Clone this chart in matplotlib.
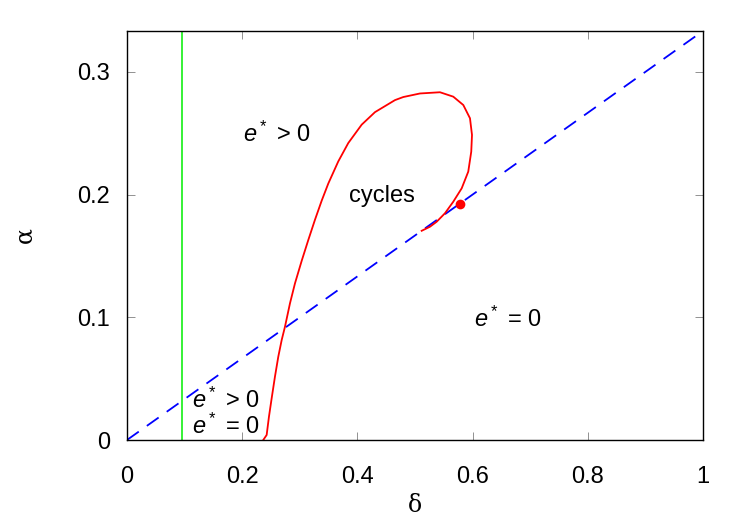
import matplotlib
matplotlib.use('Agg')
import matplotlib.pyplot as plt
import numpy as np

# values
delta_boundary = 0.096
line_delta = [0.0, 1.0]
line_alpha = [0.0, 1.0 / 3.0]

cycle_delta = [0.2366, 0.2425, 0.2465, 0.2512, 0.2569, 0.2627, 0.2686, 0.2743,
               0.2830, 0.2917, 0.3033, 0.3148, 0.3264, 0.3380, 0.3495, 0.3668,
               0.3842, 0.4075, 0.4306, 0.4653, 0.4797, 0.5087, 0.5434, 0.5665,
               0.5839, 0.5955, 0.5990, 0.5977, 0.5925, 0.5811, 0.5665, 0.5521,
               0.5377, 0.5260, 0.5116]
cycle_alpha = [0.0, 0.0041, 0.0190, 0.0340, 0.0516, 0.0679, 0.0815, 0.0923,
               0.1114, 0.1277, 0.1460, 0.1630, 0.1795, 0.1950, 0.2090, 0.2270,
               0.2420, 0.2570, 0.2672, 0.2770, 0.2795, 0.2824, 0.2834, 0.2798,
               0.2730, 0.2622, 0.2486, 0.2350, 0.2187, 0.2051, 0.1942, 0.1848,
               0.1779, 0.1738, 0.1705]

point_delta = 0.578
point_alpha = 0.1927

xticks = [0, 0.2, 0.4, 0.6, 0.8, 1]
xticklabels = ['0', '0.2', '0.4', '0.6', '0.8', '1']
yticks = [0, 0.1, 0.2, 0.3]
yticklabels = ['0', '0.1', '0.2', '0.3']

plt.rcParams['font.family'] = ['Liberation Sans', 'DejaVu Sans']
plt.rcParams['mathtext.fontset'] = 'custom'
plt.rcParams['mathtext.rm'] = 'Liberation Sans'
plt.rcParams['mathtext.it'] = 'Liberation Sans:italic'

fig = plt.figure(figsize=(7.5, 5.25), dpi=100)
ax = fig.add_axes([0.1693, 0.1619, 0.768, 0.7791])

ax.axvline(delta_boundary, color='#00ee00', lw=1.1)
ax.plot(line_delta, line_alpha, color='#0000ff', lw=1.3, dashes=(8, 5.5))
ax.plot(cycle_delta, cycle_alpha, color='#ff0000', lw=1.3, solid_joinstyle='round')
ax.plot([point_delta], [point_alpha], 'o', color='#ff0000', ms=7, mec='none')

ax.set_xlim(0, 1)
ax.set_ylim(0, 1.0 / 3.0)
ax.set_xticks(xticks)
ax.set_xticklabels(xticklabels)
ax.set_yticks(yticks)
ax.set_yticklabels(yticklabels)
ax.tick_params(direction='in', top=True, right=True, length=6, width=0.6,
               labelsize=17, color='#808080')
ax.tick_params(axis='x', pad=19)
ax.tick_params(axis='y', pad=12)
for s in ax.spines.values():
    s.set_linewidth(1.0)

ax.set_xlabel('δ', fontsize=17, family='DejaVu Serif', labelpad=4)
ax.set_ylabel('α', fontsize=17, family='DejaVu Serif', labelpad=30)

fs = 17
ax.text(0.2604, 0.249, r'$e^*$ > 0', fontsize=fs, ha='center', va='center')
ax.text(0.443, 0.199, 'cycles', fontsize=fs, ha='center', va='center')
ax.text(0.661, 0.098, r'$e^*$ = 0', fontsize=fs, ha='center', va='center')
ax.text(0.172, 0.032, r'$e^*$ > 0', fontsize=fs, ha='center', va='center')
ax.text(0.172, 0.0114, r'$e^*$ = 0', fontsize=fs, ha='center', va='center')

fig.savefig('out.png', dpi=100)
